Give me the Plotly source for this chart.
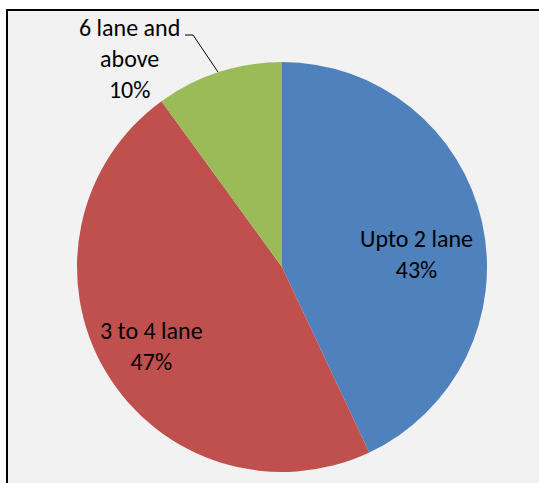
import plotly.graph_objects as go

W, H = 539, 483

categories = ["Upto 2 lane", "3 to 4 lane", "6 lane and above"]
label_text = ["Upto 2 lane", "3 to 4 lane", "6 lane and<br>above"]
shares = [43, 47, 10]
colors = ["#4F81BD", "#C0504D", "#9BBB59"]

# label centres in pixels (x, y from top)
label_pos = [(416, 254), (151, 346), (129, 58)]


def px(x, y):
    return x / W, 1 - y / H


fig = go.Figure(
    go.Pie(
        labels=categories,
        values=shares,
        sort=False,
        direction="clockwise",
        rotation=0,
        marker=dict(colors=colors, line=dict(width=0)),
        textinfo="none",
        showlegend=False,
        domain=dict(x=[77 / W, 487 / W], y=[1 - 472 / H, 1 - 62 / H]),
    )
)

total = sum(shares)
for txt, val, (lx, ly) in zip(label_text, shares, label_pos):
    ax, ay = px(lx, ly)
    fig.add_annotation(
        x=ax, y=ay, xref="paper", yref="paper",
        text=f"{txt}<br>{round(100 * val / total)}%",
        showarrow=False, xanchor="center", yanchor="middle",
        font=dict(family="Carlito, Calibri, Lato", size=24, color="#000000"),
    )

# chart area box (right and bottom edges run off the page)
x0, y1 = px(7, 10)
fig.add_shape(type="rect", xref="paper", yref="paper",
              x0=x0, x1=1.1, y0=-0.1, y1=y1,
              fillcolor="#F2F2F2", line=dict(color="#000000", width=2),
              layer="below")

# leader line for the small slice
p1, p2, p3 = px(185, 35), px(193, 35), px(218, 72)
fig.add_shape(type="path", xref="paper", yref="paper",
              path=f"M {p1[0]} {p1[1]} L {p2[0]} {p2[1]} L {p3[0]} {p3[1]}",
              line=dict(color="#000000", width=1))

fig.update_layout(
    width=W, height=H,
    margin=dict(l=0, r=0, t=0, b=0),
    paper_bgcolor="#FFFFFF",
    plot_bgcolor="#FFFFFF",
)

fig.write_html("out.html",
               config={"displayModeBar": False},
               post_script="document.body.style.margin='0';"
                           "document.body.style.overflow='hidden';")
